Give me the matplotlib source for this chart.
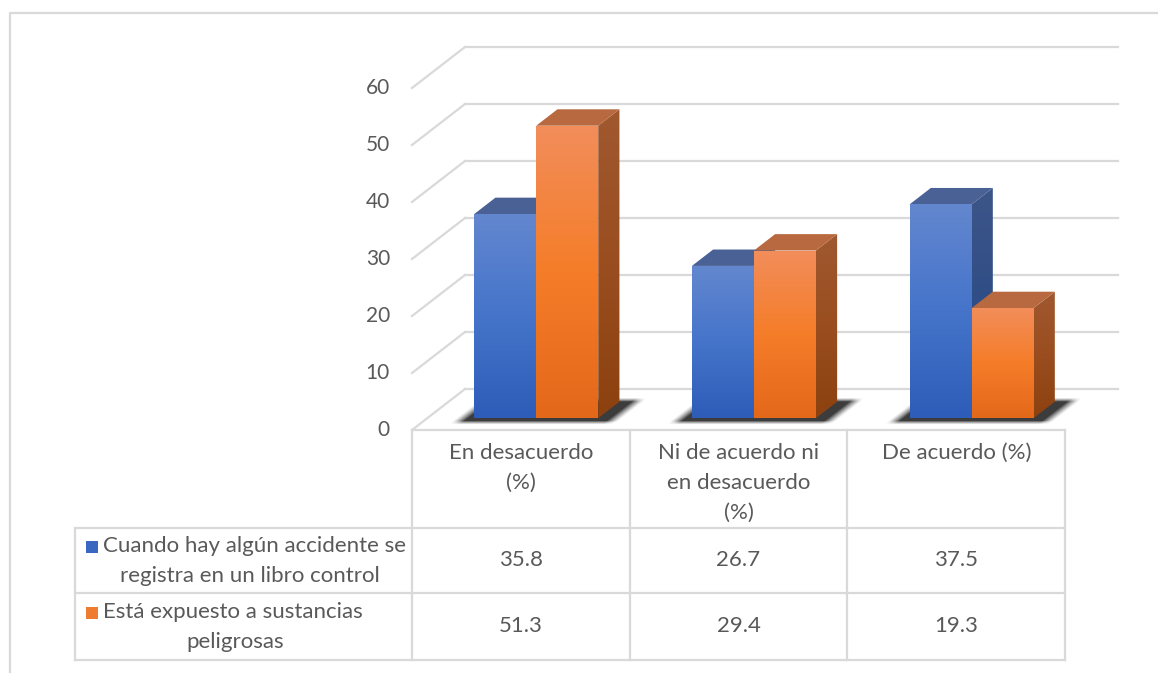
import numpy as np
import matplotlib
matplotlib.use("Agg")
from matplotlib import pyplot as plt
from matplotlib.patches import Polygon
from matplotlib.colors import to_rgb

# data
categories = ["En desacuerdo\n(%)", "Ni de acuerdo ni\nen desacuerdo\n(%)", "De acuerdo (%)"]
series_names = ["Cuando hay algún accidente se\nregistra en un libro control",
                "Está expuesto a sustancias\npeligrosas"]
accidente_registro = [35.8, 26.7, 37.5]
sustancias_peligrosas = [51.3, 29.4, 19.3]
y_ticks = [0, 10, 20, 30, 40, 50, 60]

series_values = [accidente_registro, sustancias_peligrosas]

# styling (Excel-like 3D look)
FRONT_COLORS = [("#6387CF", "#4574CA", "#2D5DB8"), ("#F28D5A", "#F57D29", "#E4681A")]
TOP_COLORS = ["#4A6196", "#B8693F"]
SIDE_COLORS = [("#3D5689", "#2F4D86", "#27467F"), ("#A0582F", "#9A4E20", "#8C410F")]
KEY_COLORS = ["#3A68C0", "#EE7B30"]
GRID = "#D9D9D9"
TEXT = "#595959"

plt.rcParams["font.family"] = ["Lato", "DejaVu Sans"]

W, H = 1158, 673
fig = plt.figure(figsize=(W / 100, H / 100), dpi=100)
ax = fig.add_axes([0, 0, 1, 1])

# pseudo-3d geometry in pixel space
FLOOR_X0 = 412
CAT_W = 217.7
DEPTH_DX, DEPTH_DY = 53, -41
FLOOR_Y = 430
PX_PER_UNIT = 5.7
BAR_W = 62
T0, T1 = 0.29, 0.69


def proj(xf, v, t):
    return (xf + DEPTH_DX * t, FLOOR_Y + DEPTH_DY * t - v * PX_PER_UNIT)


def gradient_face(pts, colors, z):
    poly = Polygon(pts, closed=True, facecolor="none", edgecolor="none")
    ax.add_patch(poly)
    xs = [p[0] for p in pts]
    ys = [p[1] for p in pts]
    n = 64
    stops = np.array([to_rgb(c) for c in colors])
    pos = np.linspace(0, 1, len(colors))
    s = np.linspace(0, 1, n)
    grad = np.stack([np.interp(s, pos, stops[:, k]) for k in range(3)], axis=1)
    img = ax.imshow(grad[:, None, :], extent=(min(xs), max(xs), max(ys), min(ys)),
                    aspect="auto", origin="upper", zorder=z, interpolation="bilinear")
    img.set_clip_path(poly)


def soft_shadow(left, right, t_front, t_back, z):
    # blurred footprint on the floor, built as an rgba image
    out_x, soft_x = 6.0, 12.0
    out_t, soft_t = 0.06, 0.10
    l_full, r_full = left - out_x, right + out_x + 6
    tf_full, tb_full = t_front - out_t, t_back
    x_lo, _ = proj(l_full - soft_x, 0, tf_full - soft_t)
    x_hi, _ = proj(r_full + soft_x, 0, tb_full + soft_t)
    _, y_lo = proj(0, 0, tf_full - soft_t)
    _, y_hi = proj(0, 0, tb_full + soft_t)
    xs = np.arange(int(x_lo), int(x_hi) + 1) + 0.5
    ys = np.arange(int(y_hi), int(y_lo) + 1) + 0.5
    X, Y = np.meshgrid(xs, ys)
    T = (Y - FLOOR_Y) / DEPTH_DY
    XF = X - DEPTH_DX * T
    sx = np.clip((XF - (l_full - soft_x)) / soft_x, 0, 1) * np.clip(((r_full + soft_x) - XF) / soft_x, 0, 1)
    st = np.clip((T - (tf_full - soft_t)) / soft_t, 0, 1) * np.clip(((tb_full + soft_t) - T) / soft_t, 0, 1)
    alpha = 0.85 * (sx * st) ** 1.3
    rgba = np.zeros(X.shape + (4,))
    rgba[..., :3] = 0.1
    rgba[..., 3] = alpha
    ax.imshow(rgba, extent=(xs[0] - 0.5, xs[-1] + 0.5, ys[-1] + 0.5, ys[0] - 0.5),
              aspect="auto", origin="upper", zorder=z, interpolation="bilinear")


# outer frame
ax.plot([10, 10, W + 5], [H + 5, 13, 13], color=GRID, lw=1.6, zorder=1)

# walls: gridlines on back and side wall
back_x0, _ = proj(FLOOR_X0, 0, 1)
back_x1 = back_x0 + len(categories) * CAT_W
for v in y_ticks:
    xf, yf = proj(FLOOR_X0, v, 0)
    xb, yb = proj(FLOOR_X0, v, 1)
    ax.plot([xb, back_x1], [yb, yb], color=GRID, lw=1.6, zorder=2)
    ax.plot([xf, xb], [yf, yb], color=GRID, lw=1.6, zorder=2)
    ax.text(xf - 22, yf, str(v), ha="right", va="center", fontsize=15, color=TEXT)

# bars
z = 5
for i in range(len(categories)):
    center = FLOOR_X0 + (i + 0.5) * CAT_W
    pair_left = center - BAR_W
    pair_right = center + BAR_W
    soft_shadow(pair_left, pair_right, T0, T1, z)
    z += 1
    for j, vals in enumerate(series_values):
        v = vals[i]
        xl = pair_left + j * BAR_W
        xr = xl + BAR_W
        front = [proj(xl, 0, T0), proj(xr, 0, T0), proj(xr, v, T0), proj(xl, v, T0)]
        top = [proj(xl, v, T0), proj(xr, v, T0), proj(xr, v, T1), proj(xl, v, T1)]
        side = [proj(xr, 0, T0), proj(xr, 0, T1), proj(xr, v, T1), proj(xr, v, T0)]
        gradient_face(side, SIDE_COLORS[j], z)
        ax.add_patch(Polygon(top, closed=True, facecolor=TOP_COLORS[j], edgecolor="none", zorder=z))
        gradient_face(front, FRONT_COLORS[j], z + 1)
        z += 2

# data table
row_y = [430, 528, 593, 660]
table_left = 75
col_x = [FLOOR_X0 + k * CAT_W for k in range(len(categories) + 1)]
lw_t = 1.6
ax.plot([col_x[0], col_x[-1]], [row_y[0]] * 2, color=GRID, lw=lw_t, zorder=3)
for yy in row_y[1:]:
    ax.plot([table_left, col_x[-1]], [yy, yy], color=GRID, lw=lw_t, zorder=3)
for xx in col_x:
    ax.plot([xx, xx], [row_y[0], row_y[-1]], color=GRID, lw=lw_t, zorder=3)
ax.plot([table_left, table_left], [row_y[1], row_y[-1]], color=GRID, lw=lw_t, zorder=3)

for i, cat in enumerate(categories):
    cx = (col_x[i] + col_x[i + 1]) / 2
    for k, line in enumerate(cat.split("\n")):
        ax.text(cx, row_y[0] + 23 + 30 * k, line, ha="center", va="center", fontsize=16,
                color=TEXT)

for j, (name, vals) in enumerate(zip(series_names, series_values)):
    ry0, ry1 = row_y[j + 1], row_y[j + 2]
    ymid = (ry0 + ry1) / 2
    first, second = name.split("\n")
    ax.text(103, ymid - 14, first, ha="left", va="center", fontsize=16, color=TEXT)
    ax.text(243 + (7 if j == 0 else -8), ymid + 15, second, ha="center", va="center",
            fontsize=16, color=TEXT)
    ax.add_patch(Polygon([(86, ymid - 20), (98, ymid - 20), (98, ymid - 8), (86, ymid - 8)],
                         closed=True, facecolor=KEY_COLORS[j], edgecolor="none", zorder=4))
    for i, v in enumerate(vals):
        cx = (col_x[i] + col_x[i + 1]) / 2
        ax.text(cx, ymid, f"{v:.1f}", ha="center", va="center", fontsize=16, color=TEXT)

ax.set_xlim(0, W)
ax.set_ylim(H, 0)
ax.axis("off")
fig.savefig("out.png", dpi=100)
